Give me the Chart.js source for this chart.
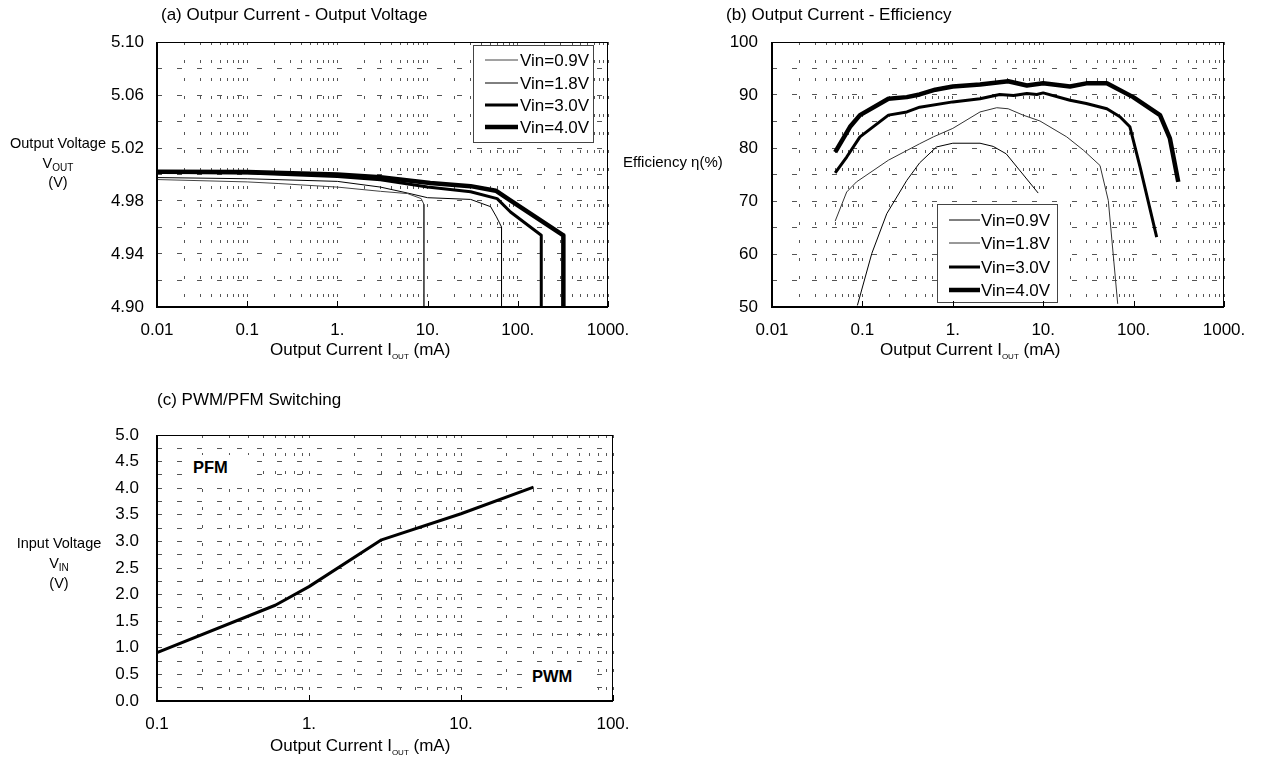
<!DOCTYPE html>
<html><head><meta charset="utf-8">
<script src="https://cdn.jsdelivr.net/npm/chart.js@4.4.1/dist/chart.umd.min.js"></script>
<style>
html,body{margin:0;padding:0;background:#fff;}
body{width:1265px;height:762px;position:relative;overflow:hidden;font-family:"Liberation Sans",Arial,sans-serif;color:#000;}
canvas{position:absolute;}
.t{position:absolute;white-space:nowrap;line-height:1;}
.yt{text-align:center;font-size:14.5px;line-height:19.5px;width:120px;}
sub{font-size:10px;line-height:0;vertical-align:baseline;position:relative;top:3px;}
sub.s2{font-size:8px;top:4px;}
.box{position:absolute;background:#fff;}
</style></head><body>
<canvas id="ca" width="660" height="380" style="left:0;top:0"></canvas>
<canvas id="cb" width="645" height="380" style="left:620px;top:0"></canvas>
<canvas id="cc" width="660" height="372" style="left:0;top:390px"></canvas>

<div class="t" style="left:161px;top:6px;font-size:17px">(a) Outpur Current - Output Voltage</div>
<div class="t" style="left:726px;top:6px;font-size:17px">(b) Output Current - Efficiency</div>
<div class="t" style="left:157px;top:391px;font-size:17px">(c) PWM/PFM Switching</div>

<div class="t yt" style="left:-2px;top:134px">Output Voltage<br>V<sub>OUT</sub><br>(V)</div>
<div class="t" style="left:623px;top:154px;font-size:15px">Efficiency η(%)</div>
<div class="t yt" style="left:-1px;top:533px;line-height:20px">Input Voltage<br>V<sub>IN</sub><br>(V)</div>

<div class="t" style="left:270px;top:341px;font-size:17px">Output Current I<sub class="s2">OUT</sub> (mA)</div>
<div class="t" style="left:880px;top:341px;font-size:17px">Output Current I<sub class="s2">OUT</sub> (mA)</div>
<div class="t" style="left:270px;top:737px;font-size:17px">Output Current I<sub class="s2">OUT</sub> (mA)</div>

<div class="box" style="left:185px;top:455px;width:67px;height:26px"></div>
<div class="t" style="left:193px;top:459px;font-size:16.5px;font-weight:bold">PFM</div>
<div class="box" style="left:528px;top:663px;width:62px;height:27px"></div>
<div class="t" style="left:532px;top:668px;font-size:16.5px;font-weight:bold">PWM</div>

<script>
// ---------- Chart (a): Output current - output voltage ----------
const iA09 = [0.01, 0.1, 0.22, 1.0, 3.0, 6.0, 8.5, 9.1, 9.1];
const vA09 = [4.9962, 4.9944, 4.9932, 4.9905, 4.9873, 4.9856, 4.9818, 4.9775, 4.90];
const iA18 = [0.01, 0.1, 1.0, 3.0, 6.0, 10, 30, 50, 58, 66, 66];
const vA18 = [4.9977, 4.9968, 4.9948, 4.9905, 4.9860, 4.9825, 4.9812, 4.9757, 4.968, 4.9604, 4.90];
const iA30 = [0.01, 0.1, 1.0, 3.0, 10, 30, 59, 83, 182, 182];
const vA30 = [5.0017, 5.0012, 4.9985, 4.9960, 4.9905, 4.9870, 4.9818, 4.9717, 4.9541, 4.90];
const iA40 = [0.01, 0.1, 1.0, 3.0, 10.7, 30, 57, 81, 320, 320];
const vA40 = [5.0021, 5.0019, 5.0000, 4.9980, 4.9936, 4.9912, 4.9878, 4.9808, 4.9541, 4.90];
const xDecadesA = [0.01, 0.1, 1, 10, 100, 1000];
const xLabelsA = ['0.01', '0.1', '1.', '10.', '100.', '1000.'];
const yValsA = [4.90, 4.94, 4.98, 5.02, 5.06, 5.10];
const yLabelsA = ['4.90', '4.94', '4.98', '5.02', '5.06', '5.10'];

// ---------- Chart (b): Output current - efficiency ----------
const iB09 = [0.088, 0.127, 0.186, 0.31, 0.43, 0.66, 1.0, 2.0, 2.8, 3.9, 8.8];
const eB09 = [50.3, 60.1, 67.6, 73.9, 77.2, 80.2, 80.9, 80.9, 80.3, 78.9, 71.5];
const iB18 = [0.05, 0.067, 0.086, 0.194, 0.43, 0.61, 1.0, 2.0, 3.06, 4.1, 6.0, 9.2, 18.2, 27.8, 42.5, 52.5, 66.7];
const eB18 = [66.2, 71.7, 73.6, 77.7, 80.8, 82.1, 83.7, 86.8, 87.6, 87.4, 86.2, 85.1, 82.1, 79.6, 76.7, 70.1, 50.6];
const iB30 = [0.05, 0.067, 0.094, 0.194, 0.31, 0.43, 1.0, 2.0, 3.3, 4.7, 6.6, 8.5, 10, 19.8, 30, 50.6, 70.6, 91, 118, 180];
const eB30 = [75.3, 78.3, 82.1, 86.2, 86.8, 87.7, 88.7, 89.3, 90.1, 89.9, 90.3, 90.1, 90.4, 89.0, 88.4, 87.4, 85.9, 84.0, 76.4, 63.2];
const iB40 = [0.05, 0.073, 0.094, 0.194, 0.31, 0.43, 0.64, 1.0, 2.0, 4.1, 6.6, 10, 19.8, 30, 50.6, 99, 196, 252, 312];
const eB40 = [79.2, 84.0, 86.2, 89.3, 89.6, 90.1, 91.0, 91.6, 92.0, 92.6, 91.8, 92.2, 91.6, 92.2, 92.2, 89.6, 86.2, 81.8, 73.6];
const xDecadesB = [0.01, 0.1, 1, 10, 100, 1000];
const xLabelsB = ['0.01', '0.1', '1.', '10.', '100.', '1000.'];
const yValsB = [50, 60, 70, 80, 90, 100];
const yLabelsB = ['50', '60', '70', '80', '90', '100'];

// ---------- Chart (c): PWM/PFM switching ----------
const iC = [0.1, 0.6, 1.0, 3.0, 10, 30];
const vC = [0.91, 1.80, 2.15, 3.03, 3.52, 4.02];
const xDecadesC = [0.1, 1, 10, 100];
const xLabelsC = ['0.1', '1.', '10.', '100.'];
const yValsC = [0, 0.5, 1.0, 1.5, 2.0, 2.5, 3.0, 3.5, 4.0, 4.5, 5.0];
const yLabelsC = ['0.0', '0.5', '1.0', '1.5', '2.0', '2.5', '3.0', '3.5', '4.0', '4.5', '5.0'];

const seriesNames = ['Vin=0.9V', 'Vin=1.8V', 'Vin=3.0V', 'Vin=4.0V'];

Chart.defaults.font.family = '"Liberation Sans", Arial, sans-serif';
Chart.defaults.color = '#000';

function logGrid(decades) {
  const out = [];
  for (let d = 0; d < decades.length - 1; d++) {
    for (let m = 1; m < 10; m++) out.push(m * decades[d]);
  }
  out.push(decades[decades.length - 1]);
  return out;
}
function linGrid(vals) {
  const out = [];
  for (let i = 0; i < vals.length; i++) {
    out.push(vals[i]);
    if (i < vals.length - 1) out.push((vals[i] + vals[i + 1]) / 2);
  }
  return out;
}
function labelLog(v, decs, labs) {
  for (let i = 0; i < decs.length; i++) {
    if (Math.abs(Math.log10(v) - Math.log10(decs[i])) < 1e-6) return labs[i];
  }
  return '';
}
function labelLin(v, vals, labs) {
  for (let i = 0; i < vals.length; i++) {
    if (Math.abs(v - vals[i]) < 1e-6) return labs[i];
  }
  return '';
}

const boxLegend = {
  id: 'boxLegend',
  afterDatasetsDraw(chart, args, o) {
    const {ctx, chartArea: a} = chart;
    const x = Math.round(o.fromRight != null ? a.right - o.fromRight - o.w : a.left + o.fromLeft);
    const y = Math.round(o.fromBottom != null ? a.bottom - o.fromBottom - o.h : a.top + o.fromTop);
    ctx.save();
    ctx.fillStyle = '#fff';
    ctx.fillRect(x, y, o.w, o.h);
    ctx.strokeStyle = '#444';
    ctx.lineWidth = 1;
    ctx.strokeRect(x + 0.5, y + 0.5, o.w, o.h);
    chart.data.datasets.forEach((ds, i) => {
      const ry = y + o.rows[i];
      ctx.beginPath();
      ctx.strokeStyle = ds.borderColor;
      ctx.lineWidth = ds.borderWidth;
      ctx.moveTo(x + o.lx0, ry);
      ctx.lineTo(x + o.lx1, ry);
      ctx.stroke();
      ctx.fillStyle = '#000';
      ctx.font = '17px "Liberation Sans", Arial, sans-serif';
      ctx.textBaseline = 'middle';
      ctx.textAlign = 'left';
      ctx.fillText(ds.label, x + o.tx, ry + 1);
    });
    ctx.restore();
  }
};

const frame = {
  id: 'frame',
  afterDraw(chart, args, o) {
    const {ctx, chartArea: a} = chart;
    const l = Math.round(a.left), r = Math.round(a.right), t = Math.round(a.top), b = Math.round(a.bottom);
    ctx.save();
    ctx.strokeStyle = '#000';
    ctx.lineWidth = 1;
    ctx.beginPath();
    ctx.moveTo(l, t + 0.5); ctx.lineTo(r, t + 0.5);
    ctx.moveTo(r - 0.5, t); ctx.lineTo(r - 0.5, b);
    // small decade ticks inside bottom axis
    const xs = chart.scales.x;
    (o.decades || []).forEach(v => {
      const px = Math.round(xs.getPixelForValue(v)) + 0.5;
      ctx.moveTo(px, b); ctx.lineTo(px, b - 6);
    });
    ctx.stroke();
    ctx.lineWidth = 2;
    ctx.beginPath();
    ctx.moveTo(l, t); ctx.lineTo(l, b); ctx.lineTo(r, b);
    ctx.stroke();
    ctx.restore();
  }
};

function makeChart(id, cfg) {
  const el = document.getElementById(id);
  const W = el.width, H = el.height, a = cfg.area;
  const xGrid = logGrid(cfg.xDecades);
  const yGrid = linGrid(cfg.yVals);
  return new Chart(el, {
    type: 'line',
    data: {
      datasets: cfg.series.map(s => ({
        label: s.label,
        data: s.xs.map((x, i) => ({x: x, y: s.ys[i]})),
        borderColor: s.color,
        borderWidth: s.width,
        pointRadius: 0,
        fill: false,
        tension: 0,
        borderJoinStyle: 'round'
      }))
    },
    options: {
      responsive: false,
      animation: false,
      devicePixelRatio: 1,
      layout: {padding: {left: 0, top: a.top, right: W - a.right, bottom: 0}},
      plugins: {
        legend: {display: false},
        tooltip: {enabled: false},
        boxLegend: cfg.legend || false,
        frame: {decades: cfg.xDecades}
      },
      scales: {
        x: {
          type: 'logarithmic',
          min: cfg.xDecades[0],
          max: cfg.xDecades[cfg.xDecades.length - 1],
          afterBuildTicks: s => { s.ticks = xGrid.map(v => ({value: v})); },
          afterFit: s => { s.height = H - a.bottom; s.paddingLeft = 0; s.paddingRight = 0; },
          ticks: {
            autoSkip: false, maxRotation: 0, minRotation: 0, padding: 13,
            color: '#000', font: {size: 17},
            callback: v => labelLog(v, cfg.xDecades, cfg.xLabels)
          },
          grid: {drawTicks: false, color: '#555', lineWidth: 1},
          border: {display: false, dash: [3, 15]}
        },
        y: {
          type: 'linear',
          min: cfg.yVals[0],
          max: cfg.yVals[cfg.yVals.length - 1],
          afterBuildTicks: s => { s.ticks = yGrid.map(v => ({value: v})); },
          afterFit: s => { s.width = a.left; s.paddingTop = 0; s.paddingBottom = 0; },
          ticks: {
            autoSkip: false, padding: cfg.yPad, color: '#000', font: {size: 17},
            callback: v => labelLin(v, cfg.yVals, cfg.yLabels)
          },
          grid: {drawTicks: false, color: '#555', lineWidth: 1},
          border: {display: false, dash: [5, 15]}
        }
      }
    },
    plugins: [boxLegend, frame]
  });
}

makeChart('ca', {
  area: {left: 157, top: 42, right: 608, bottom: 307},
  xDecades: xDecadesA, xLabels: xLabelsA, yVals: yValsA, yLabels: yLabelsA, yPad: 13,
  series: [
    {label: seriesNames[0], xs: iA09, ys: vA09, color: '#444', width: 1},
    {label: seriesNames[1], xs: iA18, ys: vA18, color: '#000', width: 1},
    {label: seriesNames[2], xs: iA30, ys: vA30, color: '#000', width: 3},
    {label: seriesNames[3], xs: iA40, ys: vA40, color: '#000', width: 4.5}
  ],
  legend: {fromRight: 15, fromTop: 3, w: 120, h: 97, rows: [15, 38, 60, 82], lx0: 12, lx1: 45, tx: 47}
});

makeChart('cb', {
  area: {left: 152, top: 42, right: 604, bottom: 307},
  xDecades: xDecadesB, xLabels: xLabelsB, yVals: yValsB, yLabels: yLabelsB, yPad: 14,
  series: [
    {label: seriesNames[0], xs: iB09, ys: eB09, color: '#000', width: 1},
    {label: seriesNames[1], xs: iB18, ys: eB18, color: '#333', width: 1},
    {label: seriesNames[2], xs: iB30, ys: eB30, color: '#000', width: 3},
    {label: seriesNames[3], xs: iB40, ys: eB40, color: '#000', width: 4.5}
  ],
  legend: {fromLeft: 165, fromBottom: 5, w: 120, h: 98, rows: [16, 39, 63, 86], lx0: 12, lx1: 43, tx: 44}
});

makeChart('cc', {
  area: {left: 157, top: 45, right: 613, bottom: 311},
  xDecades: xDecadesC, xLabels: xLabelsC, yVals: yValsC, yLabels: yLabelsC, yPad: 18,
  series: [
    {label: 'PWM/PFM', xs: iC, ys: vC, color: '#000', width: 3}
  ]
});
</script>
</body></html>
